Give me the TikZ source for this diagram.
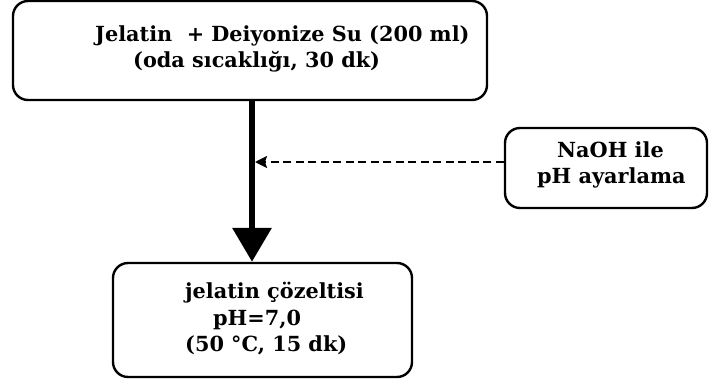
\documentclass[tikz,border=0pt]{standalone}
\usepackage{fontspec}
\setmainfont{DejaVu Serif}
\usetikzlibrary{arrows.meta}
\begin{document}
\begin{tikzpicture}[x=1pt,y=-1pt,
  box/.style={draw, line width=2.4pt, rounded corners=15pt, inner sep=0pt},
  txt/.style={anchor=base west, inner sep=0pt, font=\fontsize{20.8}{25}\selectfont\bfseries},
  mainflow/.style={line width=6.5pt, -{Triangle[width=38pt,length=34pt]}},
  sideflow/.style={line width=2pt, dash pattern=on 8pt off 4.5pt, -{Stealth[width=12pt,length=12pt,inset=2pt]}}]
\useasboundingbox (0,0) rectangle (709,380);
% boxes
\node[box, minimum width=474pt, minimum height=99pt] (start) at (250,50.5) {};
\node[box, minimum width=202pt, minimum height=80pt] (naoh) at (606,168) {};
\node[box, minimum width=299pt, minimum height=114pt] (sol) at (262.5,320) {};
% labels
\node[txt] (t1) at (95,41) {Jelatin\ \ + Deiyonize Su (200 ml)};
\node[txt] (t2) at (133,67) {(oda sıcaklığı, 30 dk)};
\node[txt] (n1) at (557,157) {NaOH ile};
\node[txt] (n2) at (537,183) {pH ayarlama};
\node[txt] (s1) at (185,298) {jelatin çözeltisi};
\node[txt] (s2) at (213,325) {pH=7,0};
\node[txt] (s3) at (185,351) {(50 °C, 15 dk)};
% connectors
\coordinate (axis) at (252,0);
\coordinate (dash) at (0,162);
\draw[mainflow] (start.south -| axis) -- (sol.north -| axis);
\draw[sideflow] (naoh.west |- dash) -- ([xshift=3pt]axis |- dash);
\end{tikzpicture}
\end{document}
